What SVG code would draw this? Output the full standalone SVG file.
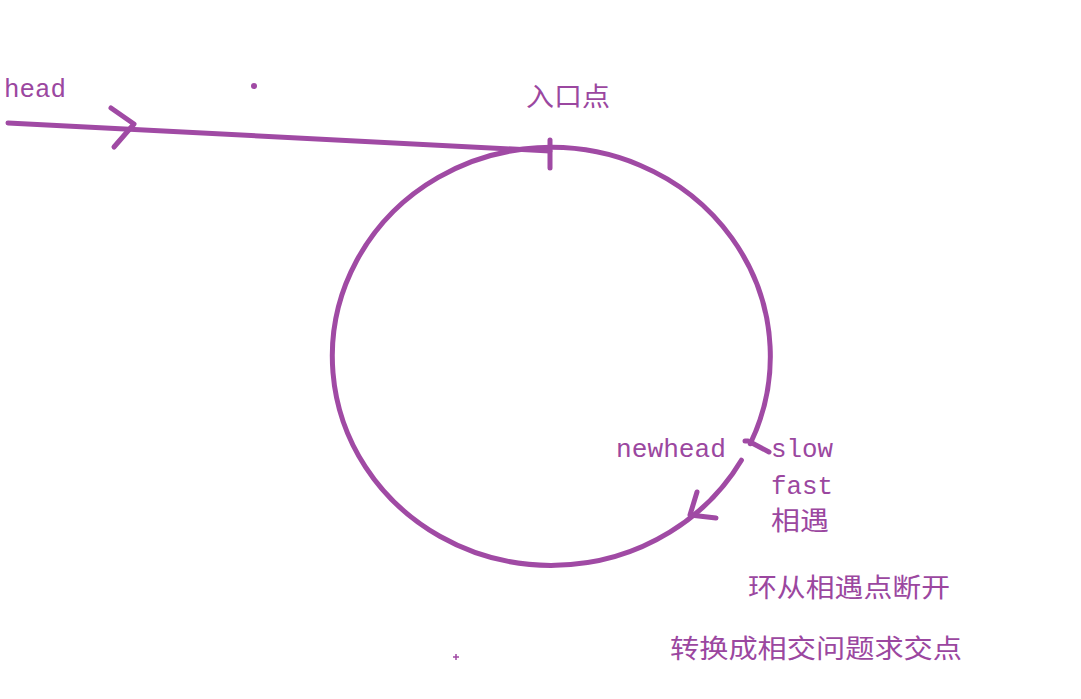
<svg xmlns="http://www.w3.org/2000/svg" width="1081" height="699" viewBox="0 0 1081 699">
<style>
.s{fill:none;stroke:#a04aa4;stroke-width:5;stroke-linecap:round;stroke-linejoin:round}
.t{fill:#9b47a0;font-family:"Liberation Mono",monospace;font-size:25px}
.c{fill:#9b47a0;font-family:"Noto Sans CJK SC",sans-serif;font-size:26px}
</style>
<rect width="1081" height="699" fill="#fff"/>
<g id="loop">
<path class="s" d="M 741.4 460.2 A 219 209 0 1 1 750.3 443.7"/>
</g>
<g id="connectors">
<path class="s" d="M 8 123 L 550 151"/>
<path class="s" d="M 111 108 L 134 124 L 114 147" stroke-width="4"/>
<path class="s" d="M 550 140 L 550 168"/>
<path class="s" d="M 697 492 L 690 515 L 716 518" stroke-width="4"/>
<path class="s" d="M 752 443 L 769 452" stroke-width="3.5"/>
<path class="s" d="M 745 441 L 748 441" stroke-width="2"/>
<circle cx="254" cy="86" r="3" fill="#a04aa4"/>
<path d="M 453 657 h 6 M 456 654 v 6" stroke="#a04aa4" stroke-width="1.5"/>
</g>
<g id="labels">
<text class="t" x="4" y="97" textLength="62" lengthAdjust="spacingAndGlyphs">head</text>
<text class="c" x="526" y="106" textLength="84" lengthAdjust="spacingAndGlyphs">入口点</text>
<text class="t" x="616" y="457" textLength="110" lengthAdjust="spacingAndGlyphs">newhead</text>
<text class="t" x="771" y="457" textLength="62" lengthAdjust="spacingAndGlyphs">slow</text>
<text class="t" x="771" y="494" textLength="62" lengthAdjust="spacingAndGlyphs">fast</text>
<text class="c" x="771" y="530" textLength="58" lengthAdjust="spacingAndGlyphs">相遇</text>
<text class="c" x="748" y="597" font-size="28" textLength="202" lengthAdjust="spacingAndGlyphs">环从相遇点断开</text>
<text class="c" x="670" y="658" font-size="28" textLength="292" lengthAdjust="spacingAndGlyphs">转换成相交问题求交点</text>
</g>
</svg>
